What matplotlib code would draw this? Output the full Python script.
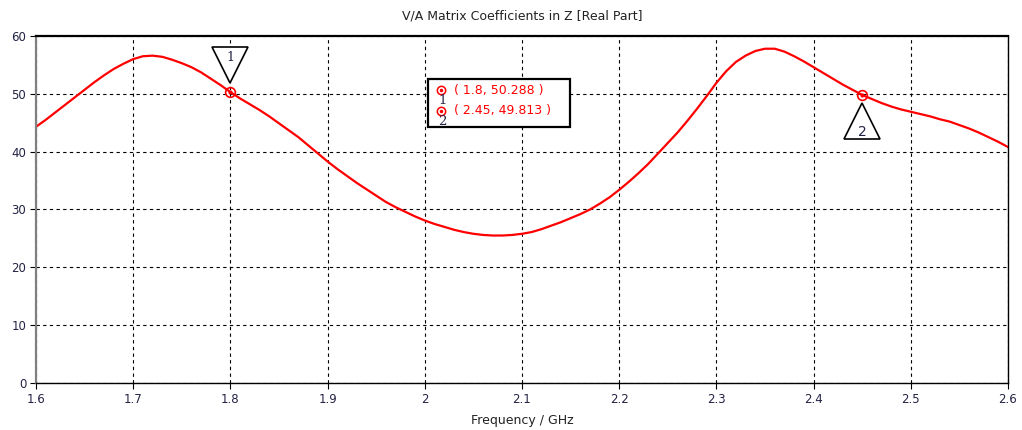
import numpy as np
import matplotlib.pyplot as plt
from matplotlib.patches import Rectangle

# ============ DATA ============
freq = [round(1.60 + 0.01 * i, 2) for i in range(101)]
real_z = [44.3, 45.5, 46.8, 48.1, 49.4, 50.7, 52.0, 53.2, 54.3, 55.2,
          56.0, 56.5, 56.6, 56.4, 55.9, 55.3, 54.6, 53.7, 52.6, 51.5,
          50.3, 49.2, 48.2, 47.2, 46.1, 44.9, 43.7, 42.5, 41.1, 39.7,
          38.3, 37.0, 35.8, 34.6, 33.5, 32.4, 31.3, 30.4, 29.6, 28.8,
          28.1, 27.5, 27.0, 26.5, 26.1, 25.8, 25.6, 25.5, 25.5, 25.6,
          25.8, 26.1, 26.6, 27.2, 27.8, 28.5, 29.2, 30.0, 31.0, 32.1,
          33.4, 34.8, 36.3, 37.9, 39.7, 41.5, 43.3, 45.3, 47.4, 49.6,
          51.9, 53.9, 55.5, 56.6, 57.4, 57.8, 57.8, 57.3, 56.5, 55.6,
          54.6, 53.6, 52.6, 51.6, 50.7, 49.8, 49.1, 48.4, 47.8, 47.3,
          46.9, 46.5, 46.1, 45.6, 45.2, 44.6, 44.0, 43.3, 42.5, 41.7,
          40.8]
mark_x = [1.8, 2.45]
mark_y = [50.288, 49.813]
mark_names = ['1', '2']

xticks = [1.6, 1.7, 1.8, 1.9, 2.0, 2.1, 2.2, 2.3, 2.4, 2.5, 2.6]
xticklabels = ['1.6', '1.7', '1.8', '1.9', '2', '2.1', '2.2', '2.3', '2.4', '2.5', '2.6']
yticks = [0, 10, 20, 30, 40, 50, 60]

plt.rcParams['font.family'] = ['DejaVu Sans']
plt.rcParams['font.size'] = 8.5

fig = plt.figure(figsize=(10.22, 4.3), dpi=100)
ax = fig.add_axes([0.0352, 0.1093, 0.9511, 0.8070])

ax.plot(freq, real_z, color='#ff0000', lw=1.6)
ax.set_xlim(1.6, 2.6)
ax.set_ylim(0, 60)
ax.set_xticks(xticks)
ax.set_xticklabels(xticklabels, color='#222244')
ax.set_yticks(yticks)
ax.set_yticklabels([str(v) for v in yticks], color='#222244')
ax.grid(True, color='black', ls=(0, (3, 3)), lw=0.8)
ax.tick_params(direction='out', length=4, width=0.8, pad=3)
for s in ['bottom', 'right']:
    ax.spines[s].set_linewidth(1.0)
ax.spines['top'].set_linewidth(1.6)
ax.spines['left'].set_linewidth(1.6)
ax.spines['left'].set_color('#808080')

ax.set_title('V/A Matrix Coefficients in Z [Real Part]', fontsize=9, color='#222222', pad=12)
ax.set_xlabel('Frequency / GHz', fontsize=9, color='#222222', labelpad=6)

# markers on curve
ax.plot(mark_x, mark_y, 'o', ms=7, mfc='none', mec='#ff0000', mew=1.2)
ax.plot(mark_x, mark_y, 'o', ms=2, color='#ff0000')

# triangle flags
ax.plot(mark_x[0], 55.0, marker='v', ms=26, mfc='white', mec='black', mew=1.2)
ax.text(mark_x[0], 56.3, mark_names[0], ha='center', va='center', fontsize=9,
        family='DejaVu Serif', color='#222244')
ax.plot(mark_x[1], 45.3, marker='^', ms=26, mfc='white', mec='black', mew=1.2)
ax.text(mark_x[1], 43.4, mark_names[1], ha='center', va='center', fontsize=10,
        color='#222244')

# marker readout box
ax.add_patch(Rectangle((0.403, 0.738), 0.146, 0.138, transform=ax.transAxes,
                       fc='white', ec='black', lw=1.6, zorder=5))
for i, (mx, my, nm) in enumerate(zip(mark_x, mark_y, mark_names)):
    yy = 0.843 - i * 0.058
    ax.plot(0.4165, yy, 'o', transform=ax.transAxes, ms=6, mfc='none',
            mec='#ff0000', mew=1.1, zorder=6)
    ax.plot(0.4165, yy, 'o', transform=ax.transAxes, ms=1.5, color='#ff0000', zorder=6)
    ax.text(0.4180, yy - 0.030, nm, transform=ax.transAxes, ha='center', va='center',
            fontsize=9.5, family='DejaVu Serif', color='#222244', zorder=7)
    ax.text(0.4300, yy, '( %g, %g )' % (mx, my), transform=ax.transAxes,
            ha='left', va='center', fontsize=9, color='#ff0000', zorder=7)

fig.savefig('out.png', dpi=100)
